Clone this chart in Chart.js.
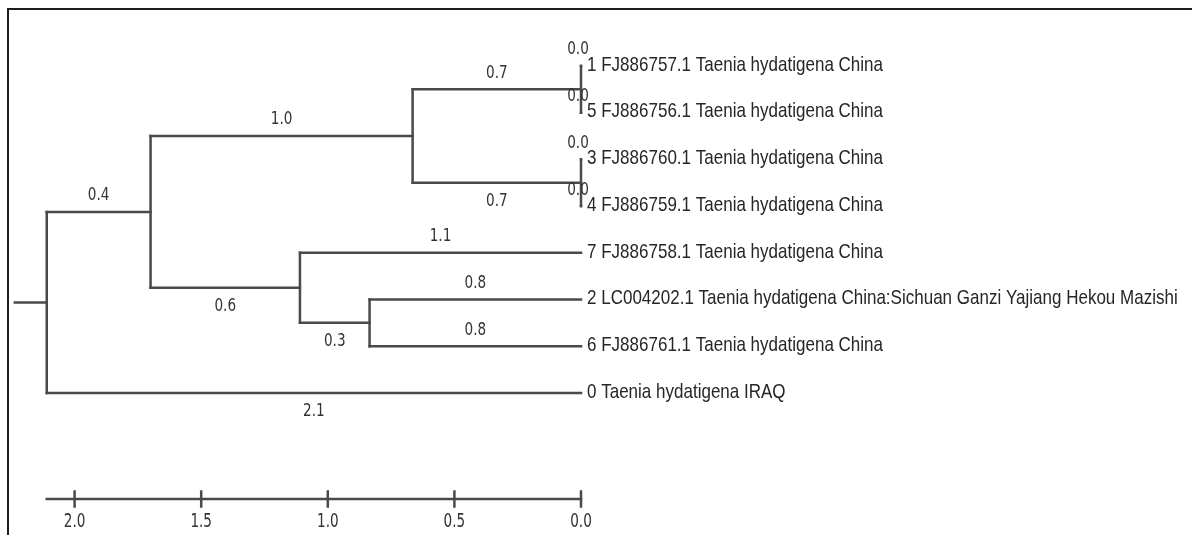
<!DOCTYPE html>
<html><head><meta charset="utf-8">
<script src="https://cdn.jsdelivr.net/npm/chart.js@4.4.0/dist/chart.umd.min.js"></script>
<style>
html,body{margin:0;padding:0;background:#fff;}
#wrap{position:relative;width:1192px;height:535px;overflow:hidden;background:#fff;}
#frame{position:absolute;left:7px;top:8px;right:-10px;bottom:-10px;border-top:2px solid #1e1e1e;border-left:2px solid #1e1e1e;pointer-events:none;}
canvas{position:absolute;left:0;top:0;}
</style></head><body>
<div id="wrap"><canvas id="c" width="1192" height="535"></canvas><div id="frame"></div></div>
<script>
// ---- data ----
// tips (indices 0..7) in display order, top to bottom
const tipLabels = [
  "1 FJ886757.1 Taenia hydatigena China",
  "5 FJ886756.1 Taenia hydatigena China",
  "3 FJ886760.1 Taenia hydatigena China",
  "4 FJ886759.1 Taenia hydatigena China",
  "7 FJ886758.1 Taenia hydatigena China",
  "2 LC004202.1 Taenia hydatigena China:Sichuan Ganzi Yajiang Hekou Mazishi",
  "6 FJ886761.1 Taenia hydatigena China",
  "0 Taenia hydatigena IRAQ"
];
// nodes 0..7 tips, 8..14 internal: (1,5), (3,4), A, D(2,6), C, B, root
const nodeParent = [8, 8, 9, 9, 12, 11, 11, 14, 10, 10, 13, 12, 13, 14, -1];
// node height (distance from the tips)
const nodeHeight = [0, 0, 0, 0, 0, 0, 0, 0, 0.0, 0.0, 0.665, 0.835, 1.11, 1.70, 2.11];
// branch length labels as printed (branch above each node)
const branchLabels = ["0.0", "0.0", "0.0", "0.0", "1.1", "0.8", "0.8", "2.1", "0.7", "0.7", "1.0", "0.3", "0.6", "0.4", ""];
const scaleTicks = [2.0, 1.5, 1.0, 0.5, 0.0];
const scaleTickLabels = ["2.0", "1.5", "1.0", "0.5", "0.0"];
const scaleBarFrom = 2.11;

// ---- styles / layout ----
const labelBelow = [false, false, false, false, false, false, false, true, false, true, false, true, true, false, false];
const LINE = '#4a4a4a';
const LW = 2.5;
const rootStub = 0.126;
const scaleRow = 9.27, scaleLabelRow = 9.75, tickHalf = 0.16;

// ---- build tree geometry from data ----
const nNodes = nodeParent.length;
const children = Array.from({length: nNodes}, () => []);
nodeParent.forEach((p, i) => { if (p >= 0) children[p].push(i); });
const row = new Array(nNodes);
for (let i = 0; i < nNodes; i++) {
  if (children[i].length === 0) row[i] = i;
  else {
    const rs = children[i].map(c => row[c]);
    row[i] = (Math.min(...rs) + Math.max(...rs)) / 2;
  }
}
const root = nodeParent.indexOf(-1);
const segs = [];
for (let i = 0; i < nNodes; i++) {
  const p = nodeParent[i];
  if (p >= 0) segs.push([{x: nodeHeight[p], y: row[i]}, {x: nodeHeight[i], y: row[i]}]);
  if (children[i].length) {
    const rs = children[i].map(c => row[c]);
    segs.push([{x: nodeHeight[i], y: Math.min(...rs)}, {x: nodeHeight[i], y: Math.max(...rs)}]);
  }
}
segs.push([{x: nodeHeight[root] + rootStub, y: row[root]}, {x: nodeHeight[root], y: row[root]}]);
// scale bar
segs.push([{x: scaleBarFrom, y: scaleRow}, {x: 0, y: scaleRow}]);
scaleTicks.forEach(t => segs.push([{x: t, y: scaleRow - tickHalf}, {x: t, y: scaleRow + tickHalf}]));

const datasets = segs.map(s => ({
  data: s, showLine: true, borderColor: LINE, backgroundColor: LINE,
  borderWidth: LW, pointRadius: 0, borderCapStyle: 'square', tension: 0
}));

function drawText(ctx, txt, x, y, font, sx, align, color) {
  ctx.save();
  ctx.font = font;
  ctx.fillStyle = color;
  ctx.textBaseline = 'middle';
  const w = ctx.measureText(txt).width * sx;
  let x0 = x;
  if (align === 'center') x0 = x - w / 2;
  ctx.translate(x0, y);
  ctx.scale(sx, 1);
  ctx.textAlign = 'left';
  ctx.fillText(txt, 0, 0);
  ctx.restore();
}

const labelsPlugin = {
  id: 'treeLabels',
  afterDatasetsDraw(chart) {
    const ctx = chart.ctx, xs = chart.scales.x, ys = chart.scales.y;
    // branch labels
    for (let i = 0; i < nNodes; i++) {
      const p = nodeParent[i];
      if (p < 0 || !branchLabels[i]) continue;
      const xm = xs.getPixelForValue((nodeHeight[p] + nodeHeight[i]) / 2);
      const y = ys.getPixelForValue(row[i]) + (labelBelow[i] ? 19 : -16);
      drawText(ctx, branchLabels[i], xm - (nodeHeight[p] === nodeHeight[i] ? 3 : 0), y, '17px "DejaVu Sans"', 0.8, 'center', '#333');
    }
    // tip labels
    for (let i = 0; i < tipLabels.length; i++) {
      const x = xs.getPixelForValue(nodeHeight[i]) + 6;
      const y = ys.getPixelForValue(row[i]) - 1;
      drawText(ctx, tipLabels[i], x, y, '21px "Liberation Sans", Arial, sans-serif', 0.81, 'left', '#262626');
    }
    // scale labels
    scaleTicks.forEach((t, k) => {
      drawText(ctx, scaleTickLabels[k], xs.getPixelForValue(t), ys.getPixelForValue(scaleLabelRow), '20px "DejaVu Sans"', 0.68, 'center', '#333');
    });
  }
};

const PXU = 253.2, X0 = 581, ROW0 = 66, ROWH = 46.7;
new Chart(document.getElementById('c'), {
  type: 'scatter',
  data: { datasets },
  options: {
    responsive: false, animation: false, events: [],
    layout: { padding: 0 },
    plugins: { legend: { display: false }, tooltip: { enabled: false } },
    scales: {
      x: { type: 'linear', reverse: true, display: false, bounds: 'data',
           min: -(1192 - X0) / PXU, max: X0 / PXU },
      y: { type: 'linear', reverse: true, display: false, bounds: 'data',
           min: -ROW0 / ROWH, max: (535 - ROW0) / ROWH }
    }
  },
  plugins: [labelsPlugin]
});
</script>
</body></html>
